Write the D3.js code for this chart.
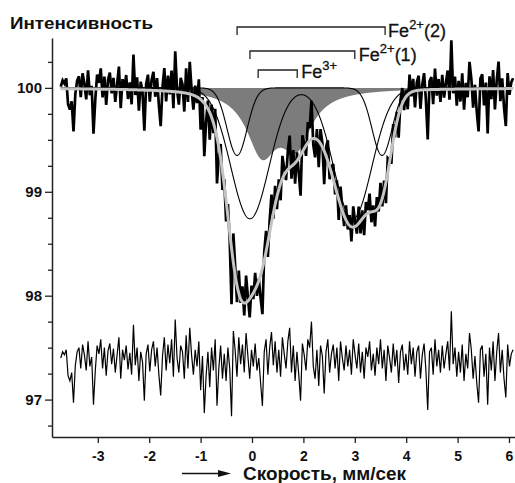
<!DOCTYPE html>
<html><head><meta charset="utf-8">
<script src="https://cdn.jsdelivr.net/npm/d3@7"></script>
<style>body{margin:0;background:#fff}svg{display:block}</style>
</head><body>
<svg id="chart" width="515" height="483"></svg>
<script>
// ---------- data ----------
const velocityDomain = [-3.891, 5.117];
const intensityDomain = [96.64, 100.48];
const xTickValues = [-3, -2, -1, 0, 1, 2, 3, 4, 5];
const xTickLabels = ["-3", "-2", "-1", "0", "2", "3", "4", "5", "6"];
const yTickValues = [97, 98, 99, 100];
const yMinorTickValues = [96.75, 97.25, 97.5, 97.75, 98.25, 98.5, 98.75, 99.25, 99.5, 99.75, 100.25];

const baselineLevel = 100;
// subspectra (centres in mm/s, depths in %, widths in mm/s)
const fe22Centers = [-0.29, 2.53];
const fe22Depths = [0.65, 0.65];
const fe22Sigma = 0.195;
const fe21Centers = [-0.04, 1.96];
const fe21Depths = [1.26, 1.26];
const fe21Sigma = 0.37;
const fe3Centers = [0.19, 0.86];
const fe3Depths = [0.58, 0.50];
const fe3Hwhm = 0.36;

const subspectrumLabels = ["Fe2+(2)", "Fe2+(1)", "Fe3+"];
const bracketEnds = [[-0.29, 2.59], [-0.04, 2.0], [0.12, 0.88]];

// measured channels
const channelStart = -3.72;
const channelEnd = 5.08;
const residualOffset = 97.38;
const residuals = [
 0.02, 0.08, 0.05, 0.10,-0.15,-0.20,-0.12,-0.41,-0.05, 0.08,
 0.12,-0.08, 0.15, 0.05,-0.10, 0.18,-0.06, 0.03,-0.43,-0.10,
 0.14, 0.06, 0.20,-0.08, 0.12,-0.15, 0.09, 0.16,-0.04, 0.11,
-0.12, 0.05, 0.22,-0.18, 0.10, 0.00, 0.14,-0.09, 0.07,-0.14,
 0.34,-0.05, 0.12,-0.20, 0.08,-0.02,-0.39, 0.06, 0.15,-0.11,
 0.10, 0.18,-0.06, 0.12,-0.14,-0.34, 0.04, 0.22,-0.10, 0.15,
-0.03, 0.20,-0.16, 0.39, 0.02,-0.12, 0.14, 0.08,-0.18, 0.24,
-0.08, 0.31, 0.05,-0.14, 0.10,-0.06, 0.18,-0.29, 0.04,-0.51,
-0.15, 0.08,-0.26, 0.12,-0.10, 0.20,-0.44,-0.08, 0.14,-0.18,
 0.06,-0.20, 0.12,-0.08,-0.54, 0.28, 0.09,-0.16, 0.22,-0.04,
 0.15,-0.12, 0.26, 0.04,-0.18, 0.10,-0.06, 0.16,-0.10, 0.02,
-0.22,-0.44, 0.08, 0.20,-0.14, 0.12, 0.27,-0.05, 0.18,-0.12,
 0.10,-0.16, 0.22, 0.06,-0.08, 0.18, 0.31,-0.12, 0.14,-0.20,
 0.08,-0.14,-0.39, 0.16, 0.05,-0.10, 0.20, 0.12, 0.37,-0.06,
-0.18, 0.10,-0.25, 0.14, 0.04,-0.32, 0.08, 0.20,-0.12, 0.06,
 0.15,-0.08, 0.12,-0.20, 0.18, 0.02,-0.10, 0.14,-0.06, 0.10,
-0.14, 0.20, 0.05,-0.08, 0.16,-0.12, 0.08,-0.18, 0.12, 0.03,
 0.18,-0.10, 0.06,-0.15, 0.12,-0.04, 0.20,-0.08, 0.10,-0.20,
 0.14, 0.02,-0.12, 0.16,-0.06, 0.10,-0.22, 0.08, 0.15,-0.10,
 0.06,-0.14, 0.18,-0.04, 0.12,-0.16, 0.08, 0.14,-0.18, 0.05,
 0.16,-0.10,-0.48, 0.08, 0.12,-0.14, 0.20,-0.06, 0.10,-0.12,
 0.14,-0.08, 0.06, 0.18,-0.10, 0.47,-0.04, 0.12,-0.16, 0.08,
-0.12, 0.15,-0.20, 0.06,-0.08, 0.26, 0.10,-0.18, 0.04,-0.22,
-0.41, 0.10, 0.14,-0.16, 0.06,-0.43, 0.12,-0.10, 0.18,-0.20,
 0.08, 0.26,-0.12, 0.10,-0.18,-0.36, 0.15,-0.06, 0.06, 0.10
];

// ---------- layout ----------
const plot = {left: 52, right: 515, top: 38, bottom: 437};
const svg = d3.select("#chart");
const x = d3.scaleLinear().domain(velocityDomain).range([plot.left, plot.right]);
const y = d3.scaleLinear().domain(intensityDomain).range([plot.bottom, plot.top]);
const FONT = "'Liberation Sans', Arial, sans-serif";

const gauss = (v, c, s) => Math.exp(-((v - c) ** 2) / (2 * s * s));
const lor = (v, c, g) => 1 / (1 + ((v - c) / g) ** 2);
const fe22 = v => fe22Depths[0] * gauss(v, fe22Centers[0], fe22Sigma) + fe22Depths[1] * gauss(v, fe22Centers[1], fe22Sigma);
const fe21 = v => fe21Depths[0] * gauss(v, fe21Centers[0], fe21Sigma) + fe21Depths[1] * gauss(v, fe21Centers[1], fe21Sigma);
const fe3 = v => fe3Depths[0] * lor(v, fe3Centers[0], fe3Hwhm) + fe3Depths[1] * lor(v, fe3Centers[1], fe3Hwhm);
const envelope = v => baselineLevel - fe22(v) - fe21(v) - fe3(v);

const grid = d3.range(channelStart, channelEnd + 1e-9, 0.005);
const step = (channelEnd - channelStart) / (residuals.length - 1);
const channels = residuals.map((r, i) => {
  const v = channelStart + i * step;
  return {v, data: envelope(v) + r, res: residualOffset + r};
});

// gray Fe3+ area
svg.append("path")
  .attr("d", d3.area().x(v => x(v)).y0(y(baselineLevel)).y1(v => y(baselineLevel - fe3(v)))(grid))
  .attr("fill", "#7c7c7c");

// thin Fe2+ subspectra
const thin = d3.line().x(d => x(d[0])).y(d => y(d[1]));
[fe22, fe21].forEach(f => {
  svg.append("path")
    .attr("d", thin(grid.map(v => [v, baselineLevel - f(v)])))
    .attr("fill", "none").attr("stroke", "#000").attr("stroke-width", 1.1);
});

// measured spectrum
svg.append("path")
  .attr("d", d3.line().x(d => x(d.v)).y(d => y(d.data))(channels))
  .attr("fill", "none").attr("stroke", "#000").attr("stroke-width", 2.7)
  .attr("stroke-linejoin", "miter").attr("stroke-miterlimit", 3);

// envelope
svg.append("path")
  .attr("d", thin(grid.map(v => [v, envelope(v)])))
  .attr("fill", "none").attr("stroke", "#c4c4c4").attr("stroke-width", 3);

// residuals
svg.append("path")
  .attr("d", d3.line().x(d => x(d.v)).y(d => y(d.res))(channels))
  .attr("fill", "none").attr("stroke", "#000").attr("stroke-width", 1.2);

// axes
const gx = svg.append("g").attr("transform", `translate(0,${plot.bottom})`)
  .call(d3.axisBottom(x).tickValues(xTickValues).tickFormat((d, i) => xTickLabels[i]).tickSize(6).tickSizeOuter(0).tickPadding(8));
gx.selectAll("text").attr("font-family", FONT).attr("font-weight", "bold").attr("font-size", 14).attr("fill", "#111");
gx.select(".domain").attr("stroke", "#222").attr("stroke-width", 1.5);
gx.selectAll(".tick line").attr("stroke", "#222").attr("stroke-width", 1.3);

const gyMinor = svg.append("g").attr("transform", `translate(${plot.left},0)`)
  .call(d3.axisLeft(y).tickValues(yMinorTickValues).tickFormat("").tickSize(4).tickSizeOuter(0));
gyMinor.select(".domain").remove();
gyMinor.selectAll(".tick line").attr("stroke", "#222").attr("stroke-width", 1.3);

const gy = svg.append("g").attr("transform", `translate(${plot.left},0)`)
  .call(d3.axisLeft(y).tickValues(yTickValues).tickFormat(d3.format("d")).tickSize(7).tickSizeOuter(0).tickPadding(3));
gy.selectAll("text").attr("font-family", FONT).attr("font-weight", "bold").attr("font-size", 15).attr("fill", "#111");
gy.select(".domain").attr("stroke", "#222").attr("stroke-width", 1.5);
gy.selectAll(".tick line").attr("stroke", "#222").attr("stroke-width", 1.3);

// brackets
const bracketY = [27, 51, 70];
const labelPos = [{dx: 3, y: 37}, {dx: 4, y: 61}, {dx: 4, y: 78}];
bracketEnds.forEach((e, i) => {
  const x0 = x(e[0]), x1 = x(e[1]), yy = bracketY[i];
  svg.append("path")
    .attr("d", `M${x0},${yy + 8}V${yy}H${x1}V${yy + 8}`)
    .attr("fill", "none").attr("stroke", "#222").attr("stroke-width", 1.3);
  const lab = subspectrumLabels[i];
  const m = lab.match(/^(Fe)(\d\+)(.*)$/);
  const t = svg.append("text").attr("x", x1 + labelPos[i].dx).attr("y", labelPos[i].y)
    .attr("font-family", FONT).attr("font-size", 18).attr("fill", "#111")
    .attr("stroke", "#111").attr("stroke-width", 0.3);
  t.append("tspan").text(m[1]);
  t.append("tspan").attr("dy", -8).attr("font-size", 13).text(m[2]);
  if (m[3]) t.append("tspan").attr("dy", 8).text(m[3]);
});

// titles
svg.append("text").attr("x", 10).attr("y", 29)
  .attr("font-family", FONT).attr("font-weight", "bold").attr("font-size", 17)
  .attr("textLength", 143).attr("lengthAdjust", "spacingAndGlyphs").attr("fill", "#111")
  .text("Интенсивность");
svg.append("text").attr("x", 243).attr("y", 480)
  .attr("font-family", FONT).attr("font-weight", "bold").attr("font-size", 17.5)
  .attr("textLength", 163).attr("lengthAdjust", "spacingAndGlyphs").attr("fill", "#111")
  .text("Скорость, мм/сек");
svg.append("path").attr("d", "M182,473.5H220").attr("stroke", "#111").attr("stroke-width", 1.5);
svg.append("path").attr("d", "M218,470L231,473.5L218,477Z").attr("fill", "#111");
</script>
</body></html>
